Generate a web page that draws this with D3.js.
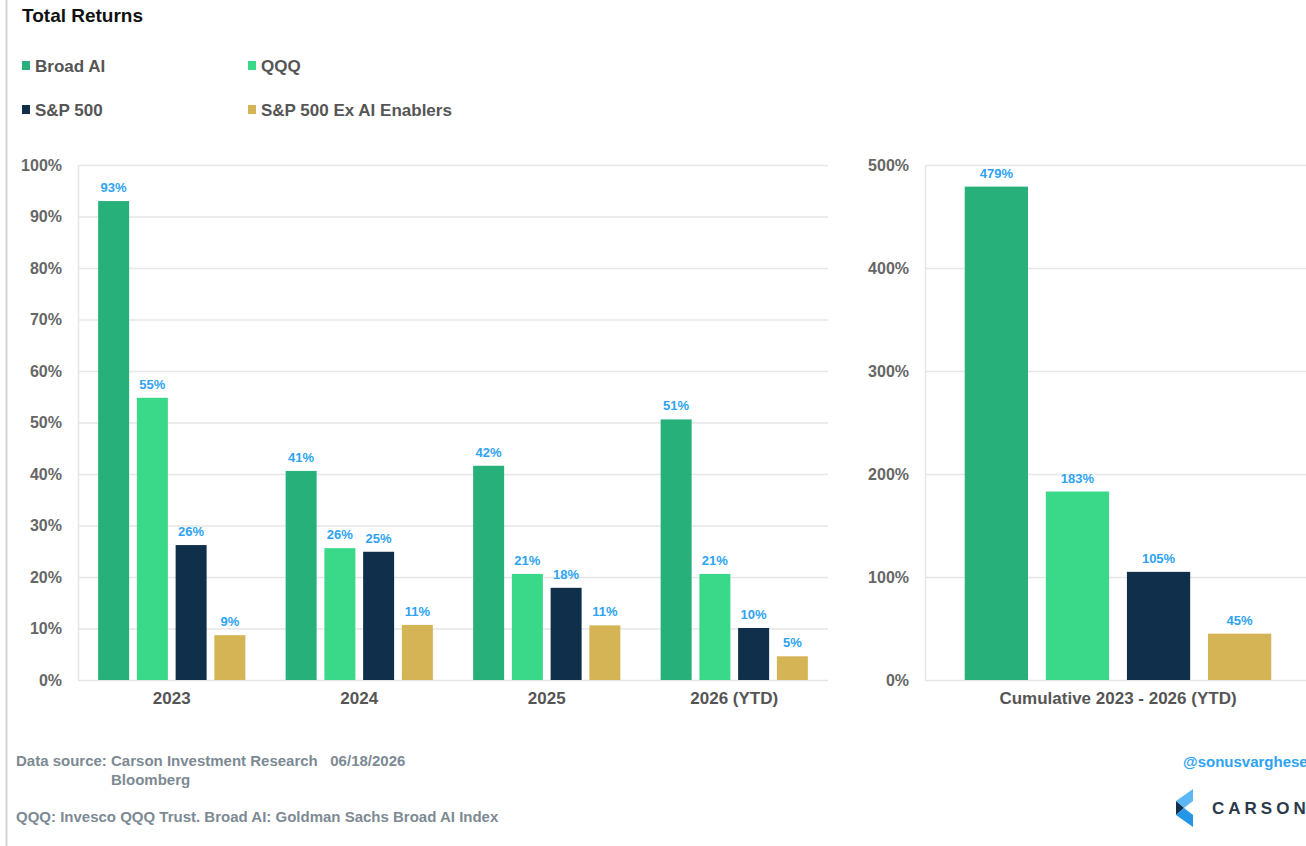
<!DOCTYPE html>
<html>
<head>
<meta charset="utf-8">
<script src="https://cdn.jsdelivr.net/npm/d3@7"></script>
<style>
  body { margin: 0; background: #fff; }
  svg { display: block; font-family: "Liberation Sans", Arial, sans-serif; }
</style>
</head>
<body>
<div id="chart"></div>
<script>
// Data
const series = ["Broad AI", "QQQ", "S&P 500", "S&P 500 Ex AI Enablers"];
const colors = ["#27b07a", "#3ad98a", "#0f2f4b", "#d4b455"];
const years = ["2023", "2024", "2025", "2026 (YTD)"];
const broadAI = [93.0, 40.6, 41.6, 50.6];
const qqq = [54.8, 25.6, 20.6, 20.6];
const sp500 = [26.2, 24.9, 17.9, 10.1];
const spExAI = [8.7, 10.7, 10.6, 4.6];
const cumLabel = ["Cumulative 2023 - 2026 (YTD)"];
const cumulative = [479, 183, 105, 45];
const leftTicks = [0, 10, 20, 30, 40, 50, 60, 70, 80, 90, 100];
const rightTicks = [0, 100, 200, 300, 400, 500];

const width = 1306, height = 846;
const svg = d3.select("#chart").append("svg")
  .attr("width", width)
  .attr("height", height);

// Page frame line on the left
svg.append("line")
  .attr("x1", 6.5).attr("x2", 6.5).attr("y1", 0).attr("y2", height)
  .attr("stroke", "#d6d6d6").attr("stroke-width", 2);

// Title
svg.append("text")
  .attr("x", 22).attr("y", 22)
  .attr("font-size", 19).attr("font-weight", "bold").attr("fill", "#111")
  .text("Total Returns");

// Legend
const legendPos = [[22, 66], [248, 66], [22, 110], [248, 110]];
series.forEach((s, i) => {
  const g = svg.append("g").attr("transform", `translate(${legendPos[i][0]},${legendPos[i][1]})`);
  g.append("rect").attr("x", 0).attr("y", -5).attr("width", 8).attr("height", 9).attr("fill", colors[i]);
  g.append("text").attr("x", 13).attr("y", 6)
    .attr("font-size", 17).attr("font-weight", "bold").attr("fill", "#555")
    .text(s);
});

// Shared bar chart helper
function barPanel(opts) {
  const g = svg.append("g");
  const x = d3.scaleBand().domain(opts.categories).range([opts.x0, opts.x1]);
  const y = d3.scaleLinear().domain(opts.domain).range([680, 165]);
  const inner = d3.scaleBand().domain(series)
    .range([0, x.bandwidth()])
    .paddingInner(opts.padInner)
    .paddingOuter(opts.padOuter);

  // Grid lines
  g.append("g")
    .selectAll("line")
    .data(opts.ticks)
    .join("line")
    .attr("x1", opts.x0).attr("x2", opts.x1)
    .attr("y1", d => y(d) + 0.5).attr("y2", d => y(d) + 0.5)
    .attr("stroke", "#e6e6e6").attr("stroke-width", 1.5);

  // Left axis line
  g.append("line")
    .attr("x1", opts.x0 + 0.5).attr("x2", opts.x0 + 0.5)
    .attr("y1", y(opts.domain[1])).attr("y2", y(0))
    .attr("stroke", "#e6e6e6").attr("stroke-width", 1.5);

  // Y axis labels
  const yAxis = d3.axisLeft(y).tickValues(opts.ticks).tickFormat(d => d + "%").tickSize(0).tickPadding(0);
  const ya = g.append("g").attr("transform", `translate(${opts.x0 - 16},0)`).call(yAxis);
  ya.select(".domain").remove();
  ya.selectAll("text")
    .attr("font-size", 16).attr("font-weight", "bold").attr("fill", "#666")
    .attr("font-family", "Liberation Sans, Arial, sans-serif");

  // X axis labels
  const xAxis = d3.axisBottom(x).tickSize(0).tickPadding(0);
  const xa = g.append("g").attr("transform", `translate(0,${y(0) + 12})`).call(xAxis);
  xa.select(".domain").remove();
  xa.selectAll("text")
    .attr("font-size", 17).attr("font-weight", "bold").attr("fill", "#555")
    .attr("font-family", "Liberation Sans, Arial, sans-serif");

  // Bars
  const rows = [];
  opts.categories.forEach((c, ci) => {
    series.forEach((s, si) => rows.push({ c, s, si, v: opts.values[si][ci] }));
  });
  const bars = g.append("g").selectAll("g").data(rows).join("g");
  bars.append("rect")
    .attr("x", d => x(d.c) + inner(d.s))
    .attr("width", inner.bandwidth())
    .attr("y", d => y(d.v))
    .attr("height", d => y(0) - y(d.v))
    .attr("fill", d => colors[d.si]);
  bars.append("text")
    .attr("x", d => x(d.c) + inner(d.s) + inner.bandwidth() / 2)
    .attr("y", d => y(d.v) - 9)
    .attr("text-anchor", "middle")
    .attr("font-size", 13).attr("font-weight", "bold").attr("fill", "#2ea3f2")
    .text(d => Math.round(d.v) + "%");
}

barPanel({
  categories: years,
  values: [broadAI, qqq, sp500, spExAI],
  domain: [0, 100], ticks: leftTicks,
  x0: 78, x1: 828, padInner: 0.2, padOuter: 0.52
});

barPanel({
  categories: cumLabel,
  values: [[cumulative[0]], [cumulative[1]], [cumulative[2]], [cumulative[3]]],
  domain: [0, 500], ticks: rightTicks,
  x0: 925, x1: 1311, padInner: 0.22, padOuter: 0.49
});

// Footer notes
const foot = svg.append("g").attr("font-size", 15).attr("font-weight", "bold").attr("fill", "#7d8a93");
foot.append("text").attr("x", 16).attr("y", 766).attr("xml:space", "preserve")
  .text("Data source: Carson Investment Research   06/18/2026");
foot.append("text").attr("x", 111).attr("y", 785).text("Bloomberg");
foot.append("text").attr("x", 16).attr("y", 822)
  .text("QQQ: Invesco QQQ Trust. Broad AI: Goldman Sachs Broad AI Index");

// Handle and logo
svg.append("text").attr("x", 1183).attr("y", 767)
  .attr("font-size", 15).attr("font-weight", "bold").attr("fill", "#2ea3f2")
  .text("@sonusvarghese");
const logo = svg.append("g").attr("transform", "translate(1176,789)");
logo.append("path").attr("d", "M17,0 L17,12 L8,19 L0,12 Z").attr("fill", "#5bb8f5");
logo.append("path").attr("d", "M0,12 L8,19 L0,26 Z").attr("fill", "#0f2f4b");
logo.append("path").attr("d", "M8,19 L17,26 L17,38 L0,26 Z").attr("fill", "#2496e8");
svg.append("text").attr("x", 1212).attr("y", 814)
  .attr("font-size", 17).attr("font-weight", "bold").attr("fill", "#2b3a4a")
  .attr("letter-spacing", 4)
  .text("CARSON");
</script>
</body>
</html>
